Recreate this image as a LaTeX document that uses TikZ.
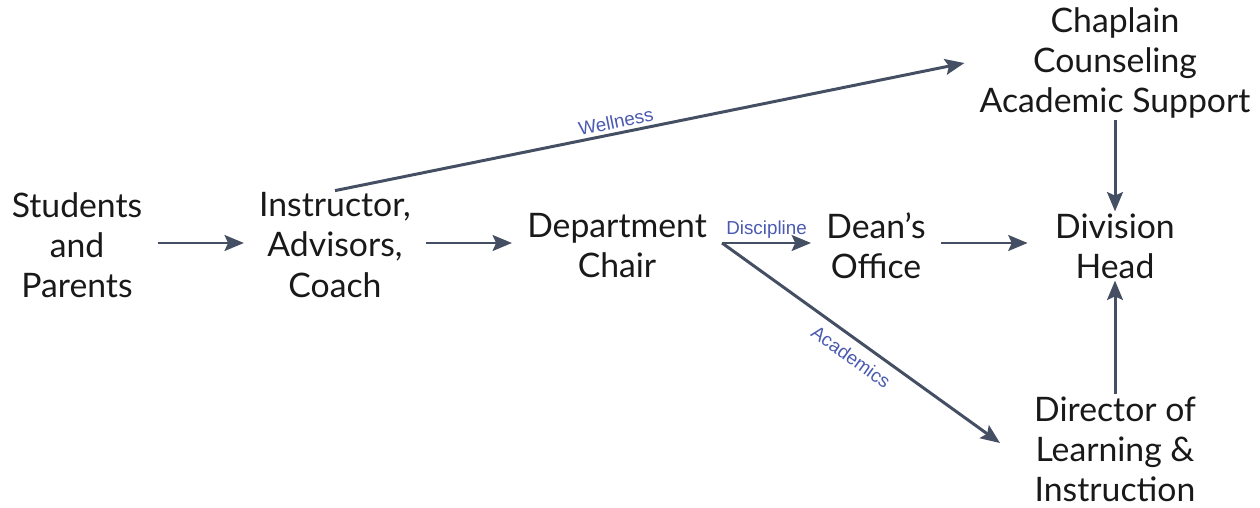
\documentclass[tikz,border=0pt]{standalone}
\usepackage{fontspec}
\setmainfont{Lato}
\newfontfamily\labelfont{Liberation Sans}
\usetikzlibrary{arrows.meta}
\definecolor{arrowgray}{HTML}{454F63}
\definecolor{labelblue}{HTML}{4A5AB0}
\tikzset{
  box/.style={align=center,inner xsep=8.5pt,inner ysep=1pt,
    font=\fontsize{19.2}{22.8}\selectfont,text=black!90},
  flow/.style={draw=arrowgray,line width=1.7pt,
    -{Stealth[length=11pt,width=9pt,inset=2pt]}},
  tag/.style={font=\labelfont\fontsize{10.7}{12}\selectfont,text=labelblue,inner sep=2pt}
}
\begin{document}
\begin{tikzpicture}[x=0.02cm,y=-0.02cm]
\useasboundingbox (0,0) rectangle (1260,507);
\node[box] (stud) at (77,245) {Students\\and\\Parents};
\node[box] (inst) at (335,245) {Instructor,\\Advisors,\\Coach};
\node[box] (dept) at (617,246) {Department\\Chair};
\node[box] (dean) at (876,246) {Dean's\\Office};
\node[box] (div) at (1115,246) {Division\\Head};
\node[box] (chap) at (1115,63) {Chaplain\\Counseling\\Academic Support};
\node[box] (dir) at (1115,449) {Director of\\Learning \&\\Instruction};
\coordinate (acadend) at (1000,443);

\draw[flow] (stud.east |- 0,243) -- (inst.west |- 0,243);
\draw[flow] (inst.east |- 0,243) -- (dept.west |- 0,243);
\draw[flow] (dept.east |- 0,243) -- node[tag,above]{Discipline} (dean.west |- 0,243);
\draw[flow,shorten >=7pt] (dean.east |- 0,243) -- (div.west |- 0,243);
\draw[flow] (chap.south) -- (div.north);
\draw[flow] (dir.north) -- (div.south);
\draw[flow] (inst.north) -- node[tag,sloped,above,pos=0.45]{Wellness} (chap.west);
\draw[flow] (dept.east |- 0,243) -- node[tag,sloped,below=3pt,pos=0.5]{Academics} (acadend);
\end{tikzpicture}
\end{document}
